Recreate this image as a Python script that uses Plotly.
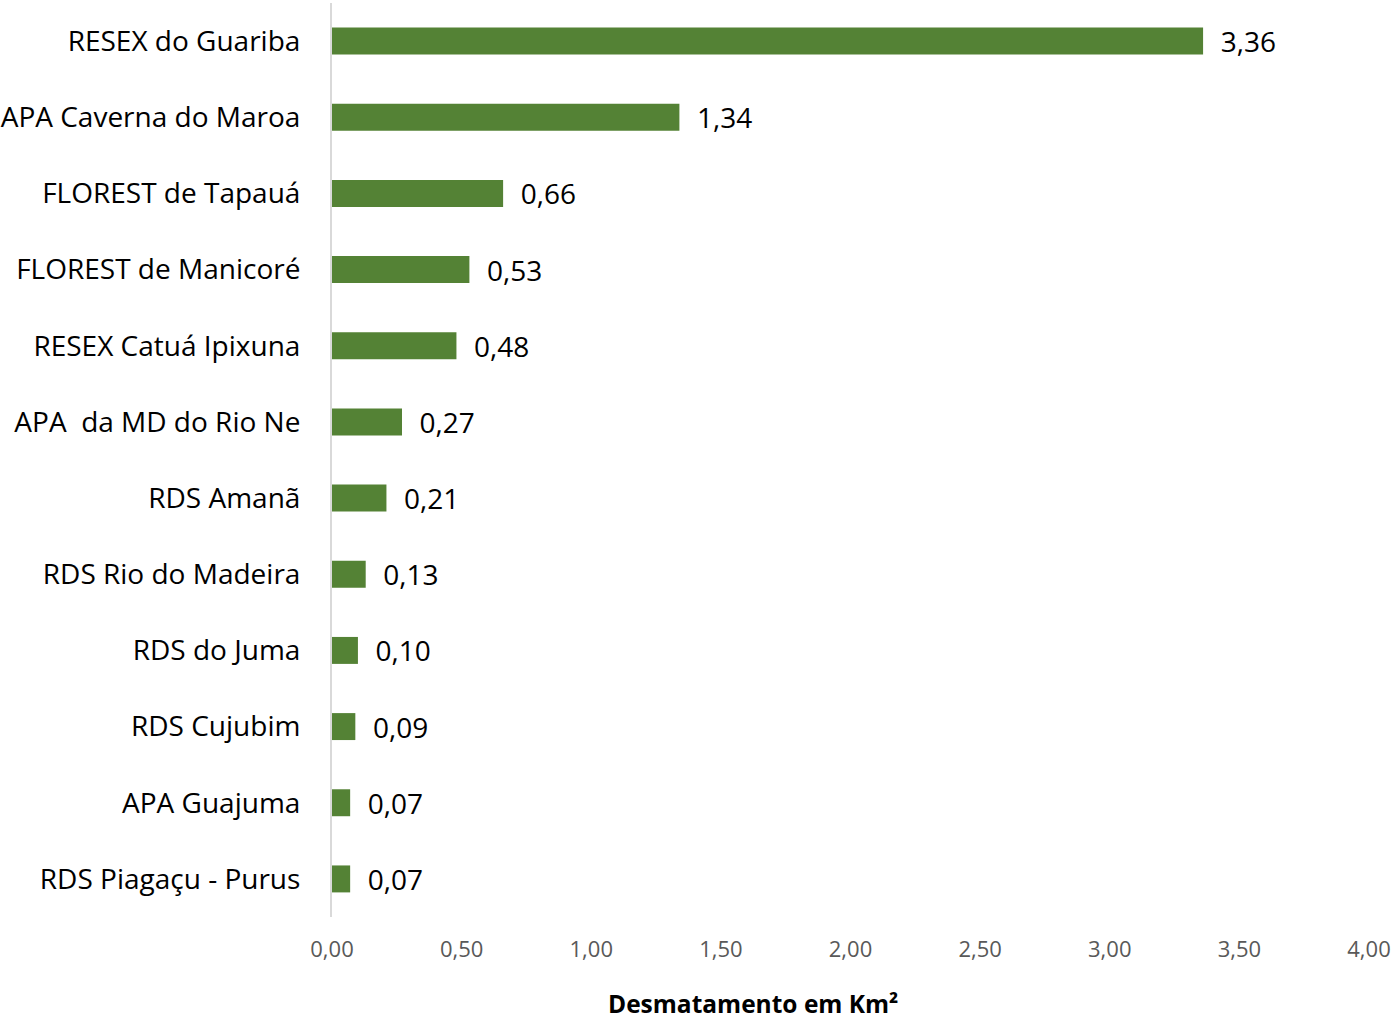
import plotly.graph_objects as go

categories = ["RESEX do Guariba", "APA Caverna do Maroa", "FLOREST de Tapauá",
              "FLOREST de Manicoré", "RESEX Catuá Ipixuna", "APA  da MD do Rio Ne",
              "RDS Amanã", "RDS Rio do Madeira", "RDS do Juma", "RDS Cujubim",
              "APA Guajuma", "RDS Piagaçu - Purus"]
values = [3.36, 1.34, 0.66, 0.53, 0.48, 0.27, 0.21, 0.13, 0.10, 0.09, 0.07, 0.07]
x_ticks = [0, 0.5, 1.0, 1.5, 2.0, 2.5, 3.0, 3.5, 4.0]
x_title = "Desmatamento em Km²"

labels = ["  " + f"{v:.2f}".replace(".", ",") for v in values]

W, H = 1393, 1023
L, R, T, B = 332, 24, 3, 106
plot_w = W - L - R
plot_h = H - T - B

fig = go.Figure(go.Bar(
    y=categories, x=values, orientation="h",
    marker=dict(color="#548235", line=dict(width=0)),
    text=labels, textposition="outside", cliponaxis=False,
    constraintext="none",
    textfont=dict(family="Open Sans", size=28, color="#000000"),
))

fig.update_layout(
    width=W, height=H,
    margin=dict(l=L, r=R, t=T, b=B, pad=0),
    paper_bgcolor="white", plot_bgcolor="white",
    separators=",.",
    bargap=0.646,
    showlegend=False,
    font=dict(family="Open Sans"),
    annotations=[dict(
        text="<b>" + x_title + "</b>", xref="paper", yref="paper",
        x=(753 - L) / plot_w, y=-(1022 - (H - B)) / plot_h,
        xanchor="center", yanchor="bottom",
        showarrow=False, font=dict(family="Open Sans", size=24.5, color="#000000"),
    )],
)
fig.update_xaxes(
    range=[0, 4], tickvals=x_ticks, tickformat=".2f",
    showgrid=False, zeroline=False, showline=False, automargin=False,
    tickfont=dict(family="Open Sans", size=22, color="#595959"),
    ticklabelstandoff=17,
)
fig.update_yaxes(
    range=[11.5, -0.5], showgrid=False, zeroline=False, automargin=False,
    showline=True, linecolor="#d9d9d9", linewidth=2,
    tickfont=dict(family="Open Sans", size=28, color="#000000"),
    ticklabelstandoff=24,
)

fig.write_html(
    "out.html",
    config={"displayModeBar": False},
    post_script="document.body.style.margin='0px';document.documentElement.style.overflow='hidden';",
)
